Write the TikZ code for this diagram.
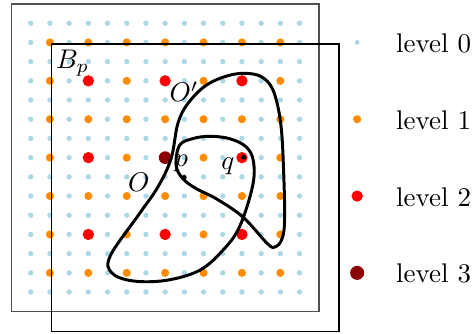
\documentclass[tikz,border=0pt]{standalone}
\begin{document}
\begin{tikzpicture}[x=0.25cm,y=0.25cm,
  lv0/.style={fill=lvzero},
  lv1/.style={fill=lvone},
  lv2/.style={fill=red},
  lv3/.style={fill=lvthree},
  lbl/.style={inner sep=0pt,font=\fontsize{10}{12}\selectfont}]
\definecolor{lvzero}{HTML}{ADD8E6}
\definecolor{lvone}{HTML}{FF8C00}
\definecolor{lvthree}{HTML}{8B0000}
\definecolor{framegray}{HTML}{505050}
\useasboundingbox (-8.60,-9.14) rectangle (15.98,8.21);
% grid of dots
\foreach \i in {-7,...,7}{
  \foreach \j in {-7,...,7}{
    \fill[lv0] (\i,\j) circle (1.0pt);
  }
}
\foreach \i in {-6,-4,...,6}{
  \foreach \j in {-6,-4,...,6}{
    \fill[lv1] (\i,\j) circle (1.5pt);
  }
}
\foreach \i in {-4,0,4}{
  \foreach \j in {-4,0,4}{
    \fill[lv2] (\i,\j) circle (2.1pt);
  }
}
\fill[lv3] (0,0) circle (2.35pt);
% frames
\draw[framegray,line width=0.55pt] (-8,-8) rectangle (8,8);
\draw[black,line width=0.5pt] (-5.92,-9.06) rectangle (9.05,5.92);
% curve
\draw[line width=1.1pt] plot[smooth cycle,tension=0.6] coordinates {
 (0.31,-0.05) (0.66,1.77) (1.18,2.81) (2.14,3.77) (3.35,4.29)
 (4.39,4.38) (5.17,4.11) (5.69,3.33) (6.04,1.6) (6.18,-1.0) (6.22,-3.26)
 (6.09,-4.22) (5.75,-4.64) (5.35,-4.5) (4.05,-3.09)
 (2.66,-2.14) (1.61,-1.61) (0.92,-1.09) (0.57,-0.4)
 (0.75,0.64) (1.44,0.99) (2.31,1.11) (3.35,0.99) (4.22,0.56) (4.6,-0.2)
 (4.55,-1.5) (3.87,-3.61) (3.0,-4.83) (1.79,-5.87)
 (0.05,-6.39) (-1.68,-6.42) (-2.78,-6.0) (-2.85,-5.1)
 (-1.34,-2.92) (-0.38,-1.53)};
% points p and q
\fill (0.99,-1.03) circle (0.9pt);
\fill (4.09,0.02) circle (0.9pt);
% labels
\node[lbl,anchor=base west] (Bp) at (-5.7,4.65) {$B_p$};
\node[lbl,anchor=base west] (Op) at (0.2,2.9) {$O'$};
\node[lbl,anchor=base west] (O) at (-1.95,-1.78) {$O$};
\node[lbl,anchor=base west] (p) at (0.45,-0.47) {$p$};
\node[lbl,anchor=base west] (q) at (2.9,-0.62) {$q$};
% legend
\fill[lv0] (10,6) circle (0.9pt);
\fill[lv1] (10,2) circle (1.5pt);
\fill[lv2] (10,-2) circle (2.1pt);
\fill[lv3] (10,-6) circle (2.6pt);
\node[lbl,anchor=base west] (l0) at (12.0,5.48) {level 0};
\node[lbl,anchor=base west] (l1) at (12.0,1.48) {level 1};
\node[lbl,anchor=base west] (l2) at (12.0,-2.52) {level 2};
\node[lbl,anchor=base west] (l3) at (12.0,-6.52) {level 3};
\end{tikzpicture}
\end{document}
